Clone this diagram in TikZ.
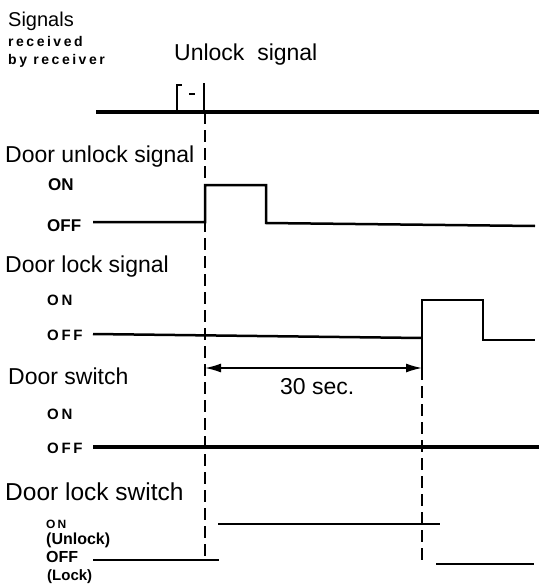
\documentclass[tikz,border=0pt]{standalone}
\usepackage{fontspec}
\setmainfont{Liberation Sans}
\newfontfamily\espace[LetterSpace=18]{Liberation Sans}
\usetikzlibrary{arrows.meta}

\tikzset{
  titre/.style={anchor=base west, inner sep=0pt, font=\fontsize{23}{27}\selectfont},
  etat/.style={anchor=base west, inner sep=0pt, font=\bfseries\fontsize{17}{20}\selectfont},
  etatesp/.style={anchor=base west, inner sep=0pt, font=\espace\bfseries\fontsize{15}{18}\selectfont},
  signal/.style={line width=2.5pt},
  repere/.style={line width=2pt, dash pattern=on 12pt off 6pt},
}

\begin{document}
\begin{tikzpicture}[x=1pt,y=-1pt]
  \useasboundingbox (0,0) rectangle (539,586);

  % Instants de reference
  \coordinate (T1) at (205,112);
  \coordinate (T2) at (422,368);

  % Textes de gauche
  \node[titre, font=\fontsize{20}{24}\selectfont] (sig) at (8,27) {Signals};
  \node[etatesp, font=\espace\bfseries\fontsize{14}{16}\selectfont] (rec) at (8,47) {received};
  \node[etatesp, font=\espace\bfseries\fontsize{14}{16}\selectfont] (by) at (8,65) {by receiver};
  \node[titre] (unl) at (174,60) {Unlock\ \ signal};

  \node[titre] (dus) at (5,162) {Door unlock signal};
  \node[etat] (dusOn) at (48,190) {ON};
  \node[etat] (dusOff) at (47,231) {OFF};

  \node[titre] (dls) at (5,272) {Door lock signal};
  \node[etatesp] (dlsOn) at (47,305) {ON};
  \node[etatesp] (dlsOff) at (47,340) {OFF};

  \node[titre] (dsw) at (8,384) {Door switch};
  \node[etatesp] (dswOn) at (47,419) {ON};
  \node[etatesp] (dswOff) at (47,453) {OFF};

  \node[titre, font=\fontsize{24.5}{28}\selectfont] (dlw) at (5,500) {Door lock switch};
  \node[etatesp, font=\espace\bfseries\fontsize{12}{14}\selectfont] (dlwOn) at (46,528) {ON};
  \node[etat, font=\bfseries\fontsize{16}{18}\selectfont] (dlwUn) at (46,544) {(Unlock)};
  \node[etat, font=\bfseries\fontsize{16}{18}\selectfont] (dlwOff) at (46,562) {OFF};
  \node[etat, font=\bfseries\fontsize{15}{17}\selectfont] (dlwLk) at (47,580) {(Lock)};

  % Signal recu
  \draw[line width=4pt] (96,112) -- (539,112);
  \draw[line width=2pt] (177,112) -- (177,85) -- (182,85);
  \draw[line width=1.5pt] (189,94) -- (195,94);
  \draw[line width=2pt] (204,112) -- (204,83);

  % Reperes verticaux
  \draw[repere] (T1) -- (205,557);
  \draw[repere] (T2) -- (422,563);

  % Door unlock signal
  \draw[signal] (93,222) -- (205,222) -- (205,185) -- (266,185) -- (266,223) -- (535,226);

  % Door lock signal
  \draw[signal] (93,334) -- (422,338);
  \draw[signal] (T2) -- (422,300) -- (483,300) -- (483,340) -- (535,340);

  % Duree
  \coordinate (A) at (205,368);
  \draw[line width=1.5pt, {Latex[length=16pt,width=9pt]}-{Latex[length=16pt,width=9pt]}] (A) -- (T2);
  \node[titre] (dur) at (280,394) {30 sec.};

  % Door switch
  \draw[line width=4pt] (93,447) -- (539,447);

  % Door lock switch
  \draw[signal] (218,524) -- (440,524);
  \draw[signal] (93,560) -- (219,560);
  \draw[signal] (436,564) -- (534,564);
\end{tikzpicture}
\end{document}
